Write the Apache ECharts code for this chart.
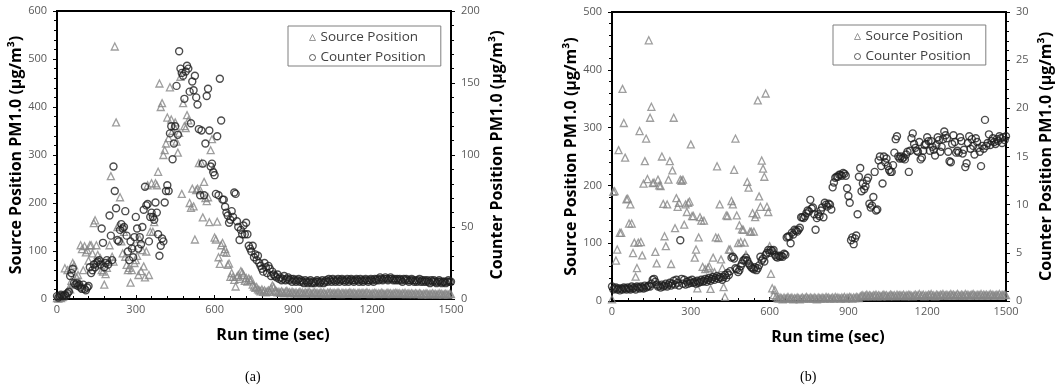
<!DOCTYPE html>
<html>
<head>
<meta charset="utf-8">
<script src="https://cdn.jsdelivr.net/npm/echarts@6/dist/echarts.min.js"></script>
<style>
html,body{margin:0;padding:0;background:#fff;}
#chart{width:1062px;height:390px;}
</style>
</head>
<body>
<div id="chart"></div>
<script>
// Run time (sec), shared by both panels
const runTime = [
0,5,10,15,20,25,30,35,40,45,50,55,60,65,70,75,80,85,90,95,
100,105,110,115,120,125,130,135,140,145,150,155,160,165,170,175,180,185,190,195,
200,205,210,215,220,225,230,235,240,245,250,255,260,265,270,275,280,285,290,295,
300,305,310,315,320,325,330,335,340,345,350,355,360,365,370,375,380,385,390,395,
400,405,410,415,420,425,430,435,440,445,450,455,460,465,470,475,480,485,490,495,
500,505,510,515,520,525,530,535,540,545,550,555,560,565,570,575,580,585,590,595,
600,605,610,615,620,625,630,635,640,645,650,655,660,665,670,675,680,685,690,695,
700,705,710,715,720,725,730,735,740,745,750,755,760,765,770,775,780,785,790,795,
800,805,810,815,820,825,830,835,840,845,850,855,860,865,870,875,880,885,890,895,
900,905,910,915,920,925,930,935,940,945,950,955,960,965,970,975,980,985,990,995,
1000,1005,1010,1015,1020,1025,1030,1035,1040,1045,1050,1055,1060,1065,1070,1075,1080,1085,1090,1095,
1100,1105,1110,1115,1120,1125,1130,1135,1140,1145,1150,1155,1160,1165,1170,1175,1180,1185,1190,1195,
1200,1205,1210,1215,1220,1225,1230,1235,1240,1245,1250,1255,1260,1265,1270,1275,1280,1285,1290,1295,
1300,1305,1310,1315,1320,1325,1330,1335,1340,1345,1350,1355,1360,1365,1370,1375,1380,1385,1390,1395,
1400,1405,1410,1415,1420,1425,1430,1435,1440,1445,1450,1455,1460,1465,1470,1475,1480,1485,1490,1495,
1500];

// (a) Source position PM1.0 (left axis, µg/m³)
const sourceA = [
2,1,3,2,4,6,64,12,60,22,20,38,75,70,30,45,50,35,112,104,
60,110,97,102,80,112,112,95,158,164,112,92,70,85,60,57,30,52,65,78,
112,256,88,78,526,368,150,154,212,120,95,140,88,71,60,65,34,60,110,75,
81,90,50,125,58,102,68,45,99,237,50,140,241,140,160,241,237,265,449,400,
408,300,310,324,378,335,441,374,350,360,368,328,305,346,463,219,408,360,356,383,
372,200,190,230,193,124,227,230,283,227,283,170,244,210,204,212,160,310,333,272,
128,124,161,87,73,112,117,98,104,96,71,74,46,54,46,40,26,46,50,42,
58,55,50,38,44,36,43,39,40,30,26,23,25,20,18,16,20,15,18,14,
16,18,15,22,28,25,18,16,14,15,13,16,14,12,15,17,13,14,12,15,
13,12,14,11,13,15,12,13,11,14,12,13,15,12,11,13,14,12,13,11,
12,14,11,13,12,10,13,12,14,11,12,13,11,12,14,12,10,13,12,11,
13,11,12,14,12,11,13,12,10,12,13,11,12,13,11,12,14,11,12,10,
12,11,13,12,10,12,11,13,12,11,10,12,13,11,12,10,12,11,13,12,
11,12,10,12,11,13,10,11,12,10,12,11,10,12,11,10,12,11,9,11,
10,12,11,9,11,10,12,10,11,9,10,12,10,11,9,10,11,10,9,11,
10];

// (a) Counter position PM1.0 (right axis, µg/m³)
const counterA = [
2,1,2,3,2,2,3,2,4,5,16,18,21,11,10,11,9,10,8,7,
10,7,6,8,9,22,18,20,24,22,25,26,27,24,49,39,22,25,27,24,
58,44,27,92,75,63,41,40,48,52,49,50,61,44,33,27,40,35,29,43,
57,49,35,43,38,50,62,78,65,66,40,57,60,57,55,67,60,45,30,37,
42,40,67,75,79,75,115,120,97,108,120,148,114,172,160,157,155,139,158,162,
160,144,122,151,145,155,140,135,118,72,117,94,72,108,141,146,117,92,94,88,
86,73,113,72,153,124,69,69,64,60,58,53,55,61,57,74,73,54,50,41,
48,45,51,45,53,45,37,35,33,37,29,31,27,30,25,23,21,19,25,22,
18,23,21,16,19,17,16,15,17,14,15,13,14,16,13,14,15,13,14,12,
14,13,12,13,14,12,13,12,11,13,12,11,12,13,11,12,11,12,13,12,
11,12,13,11,12,13,12,14,13,12,14,13,12,13,14,12,13,14,13,12,
13,14,12,13,14,13,12,13,14,13,12,14,13,12,13,14,13,12,13,14,
13,12,14,13,14,13,15,14,13,14,15,14,13,14,15,14,13,14,13,14,
13,14,13,12,14,13,14,13,12,13,14,13,12,13,12,13,14,12,13,12,
13,12,13,12,11,13,12,13,12,11,12,13,12,11,12,12,11,12,13,12,
12];

// (b) Source position PM1.0 (left axis, µg/m³)
const sourceB = [
3,189,190,70,89,261,118,118,367,308,248,176,177,134,167,134,83,101,42,57,
101,294,102,79,203,242,281,211,451,317,336,204,205,85,65,210,200,199,250,168,
112,95,167,210,242,64,226,317,126,178,163,170,210,208,210,132,167,154,170,172,
271,147,147,75,89,22,110,145,139,59,139,55,40,57,60,21,45,75,50,110,
233,109,167,72,57,24,7,148,147,89,89,173,167,227,281,148,100,131,102,124,
123,101,80,206,196,120,120,152,120,145,150,347,181,163,243,229,215,359,163,154,
95,47,22,10,19,8,5,4,6,5,3,6,4,5,7,4,5,6,3,5,
4,6,5,3,5,6,4,5,7,5,4,6,5,4,6,5,3,6,5,4,
6,5,4,7,5,6,4,5,6,4,7,5,6,5,4,6,5,7,4,6,
5,7,6,4,6,5,7,6,5,8,9,10,8,9,11,8,10,9,8,10,
9,11,8,10,9,8,10,11,9,10,8,9,11,10,9,10,8,11,9,10,
10,9,11,8,10,9,11,10,9,8,10,11,9,10,12,9,10,11,8,10,
9,11,10,12,9,10,8,11,10,9,11,10,12,9,10,11,9,10,12,10,
11,9,10,12,10,9,11,10,9,12,10,11,9,10,11,12,10,9,11,10,
10,12,9,11,10,11,9,10,12,10,11,9,10,11,10,12,9,11,10,11,
10];

// (b) Counter position PM1.0 (right axis, µg/m³)
const counterB = [
1.5,1.2,1.3,1.4,1.2,1.3,1.1,1.3,1.2,1.4,1.3,1.2,1.4,1.3,1.2,1.5,1.3,1.4,1.2,1.5,
1.4,1.3,1.5,1.4,1.3,1.6,1.4,1.5,1.6,1.5,1.8,2.2,2.3,2.0,1.7,1.5,1.6,1.4,1.7,1.5,
1.6,1.8,1.5,1.7,1.9,1.6,1.8,2.1,1.7,2.2,1.9,1.6,6.3,2.3,1.8,2.2,1.7,2.0,1.8,2.1,
1.9,2.2,1.9,2.0,1.8,2.1,1.9,2.0,2.2,2.0,2.1,2.3,2.0,2.2,2.4,2.1,2.3,2.5,2.2,2.4,
2.6,2.3,2.5,2.4,2.2,2.5,2.7,2.4,2.9,2.7,3.1,4.5,4.6,4.4,3.4,3.3,3.0,3.2,3.6,3.9,
4.2,4.3,4.5,4.2,3.9,3.7,3.5,3.4,3.3,3.5,3.2,3.4,3.7,4.6,4.2,4.4,4.1,4.8,5.0,5.3,
5.0,5.3,5.2,5.3,4.8,4.6,4.5,4.7,4.6,4.7,4.6,4.9,4.8,6.6,6.7,6.7,6.0,7.1,6.9,7.4,
7.3,7.2,7.4,7.6,8.7,8.7,8.6,8.8,9.1,9.4,9.3,10.5,9.6,9.7,9.0,7.4,8.6,9.0,8.8,9.4,
9.7,8.7,10.2,10.0,9.8,10.1,10.0,9.5,11.8,12.3,12.8,12.9,12.9,13.1,13.1,13.0,13.3,13.2,13.0,11.7,
10.9,10.2,6.3,6.6,5.9,6.5,6.8,9.0,12.9,13.8,11.4,12.2,11.6,11.9,12.5,12.8,10.1,9.7,9.9,10.8,
13.4,9.4,9.5,14.6,15.0,14.0,12.2,15.0,14.4,14.8,14.0,13.6,13.4,13.4,14.1,15.4,16.8,17.1,15.0,14.8,
15.0,14.8,14.9,14.7,15.2,15.5,13.4,15.6,16.9,17.4,16.3,15.9,15.6,15.5,16.5,14.7,14.9,15.6,16.2,16.3,
17.0,16.6,15.6,16.6,16.0,15.7,15.1,16.2,17.0,16.7,15.5,16.0,16.8,17.6,17.2,16.9,15.5,14.5,14.4,16.3,
17.2,16.5,15.4,15.6,15.4,17.0,16.6,15.3,15.7,13.9,14.3,16.4,17.1,15.8,16.8,16.1,15.2,16.9,16.5,15.9,
15.5,14.0,16.1,15.8,18.8,16.1,16.4,17.3,16.2,16.6,16.9,16.5,16.3,16.8,16.6,17.1,16.9,16.4,17.0,16.7,
17.1];

const xTicks = [0, 300, 600, 900, 1200, 1500];
const seriesNames = ['Source Position', 'Counter Position'];
const panelLabels = ['(a)', '(b)'];
const xTitle = 'Run time (sec)';
const leftTitle = 'Source Position PM1.0 (μg/m³)';
const rightTitle = 'Counter Position PM1.0 (μg/m³)';

const FONT = '"Open Sans", "DejaVu Sans", sans-serif';
const chart = echarts.init(document.getElementById('chart'), null, {renderer: 'canvas'});

function pairs(vals) { return runTime.map((t, i) => [t, vals[i]]); }

function xAxis(gi) {
  return {
    gridIndex: gi, type: 'value', min: xTicks[0], max: xTicks[xTicks.length - 1], interval: 300,
    name: xTitle, nameLocation: 'middle', nameGap: 28,
    nameTextStyle: {fontFamily: FONT, fontWeight: 'bold', fontSize: 16, color: '#000', padding: [0, 0, 0, 38]},
    axisLine: {show: true, onZero: false, lineStyle: {color: '#000', width: 2}},
    axisTick: {show: true, inside: true, length: 4, lineStyle: {color: '#000', width: 1}},
    minorTick: {show: true, splitNumber: 5, length: 3, lineStyle: {color: '#000', width: 1}},
    axisLabel: {margin: 5, fontFamily: FONT, fontSize: 11, color: '#595959', formatter: v => String(v)},
    splitLine: {show: false}
  };
}
function yAxis(gi, max, interval, pos, title, gap) {
  return {
    gridIndex: gi, type: 'value', min: 0, max: max, interval: interval, position: pos,
    name: title, nameLocation: 'middle', nameRotate: 90, nameGap: gap,
    nameTextStyle: {fontFamily: FONT, fontWeight: 'bold', fontSize: 16, color: '#000'},
    axisLine: {show: true, onZero: false, lineStyle: {color: '#000', width: 2}},
    axisTick: {show: true, inside: false, length: 4, lineStyle: {color: '#000', width: 1}},
    minorTick: {show: true, splitNumber: 5, length: 3, lineStyle: {color: '#000', width: 1}},
    axisLabel: {margin: 10, fontFamily: FONT, fontSize: 11, color: '#595959', formatter: v => String(v)},
    splitLine: {show: false}
  };
}
const triStyle = {color: 'rgba(0,0,0,0)', borderColor: '#868686', borderWidth: 1.3};
const cirStyle = {color: 'rgba(0,0,0,0)', borderColor: '#1f1f1f', borderWidth: 1.4};
function legend(left, top) {
  return {
    left: left, top: top, orient: 'vertical', show: true,
    backgroundColor: '#fff', borderColor: '#7f7f7f', borderWidth: 1,
    padding: [4, 15, 1, 21], itemGap: 5, itemWidth: 6, itemHeight: 6,
    textStyle: {fontFamily: FONT, fontSize: 13.5, lineHeight: 15, color: '#404040'},
    data: [
      {name: seriesNames[0], icon: 'triangle', itemStyle: {color: 'rgba(0,0,0,0)', borderColor: '#808080', borderWidth: 1}},
      {name: seriesNames[1], icon: 'circle', itemStyle: {color: 'rgba(0,0,0,0)', borderColor: '#333', borderWidth: 1}}
    ]
  };
}

const graphics = [
  {type: 'text', left: 245, top: 370, style: {text: panelLabels[0], font: '14px "Liberation Serif", serif', fill: '#000'}},
  {type: 'text', left: 800, top: 370, style: {text: panelLabels[1], font: '14px "Liberation Serif", serif', fill: '#000'}}
];
const lens = [sourceA.length, counterA.length, sourceB.length, counterB.length];
if (lens.some(l => l !== runTime.length)) {
  graphics.push({type: 'text', left: 400, top: 360, style: {text: 'len ' + runTime.length + ' / ' + lens.join(','), fill: 'red'}});
}

chart.setOption({
  animation: false,
  backgroundColor: '#fff',
  grid: [
    {left: 57, top: 11, width: 394, height: 288, show: true, borderColor: '#000', borderWidth: 2, backgroundColor: 'rgba(0,0,0,0)'},
    {left: 612, top: 12, width: 394, height: 289, show: true, borderColor: '#000', borderWidth: 2, backgroundColor: 'rgba(0,0,0,0)'}
  ],
  xAxis: [xAxis(0), xAxis(1)],
  yAxis: [
    yAxis(0, 600, 100, 'left', leftTitle, 29),
    yAxis(0, 200, 50, 'right', rightTitle, 38),
    yAxis(1, 500, 100, 'left', leftTitle, 33),
    yAxis(1, 30, 5, 'right', rightTitle, 32)
  ],
  legend: [legend(288, 26), legend(833, 25)],
  graphic: graphics,
  series: [
    {name: seriesNames[0], type: 'scatter', xAxisIndex: 0, yAxisIndex: 0, symbol: 'triangle', symbolSize: 7, itemStyle: triStyle, data: pairs(sourceA), silent: true},
    {name: seriesNames[1], type: 'scatter', xAxisIndex: 0, yAxisIndex: 1, symbol: 'circle', symbolSize: 7, itemStyle: cirStyle, data: pairs(counterA), silent: true},
    {name: seriesNames[0], type: 'scatter', xAxisIndex: 1, yAxisIndex: 2, symbol: 'triangle', symbolSize: 7, itemStyle: triStyle, data: pairs(sourceB), silent: true},
    {name: seriesNames[1], type: 'scatter', xAxisIndex: 1, yAxisIndex: 3, symbol: 'circle', symbolSize: 7, itemStyle: cirStyle, data: pairs(counterB), silent: true}
  ]
});
</script>
</body>
</html>
